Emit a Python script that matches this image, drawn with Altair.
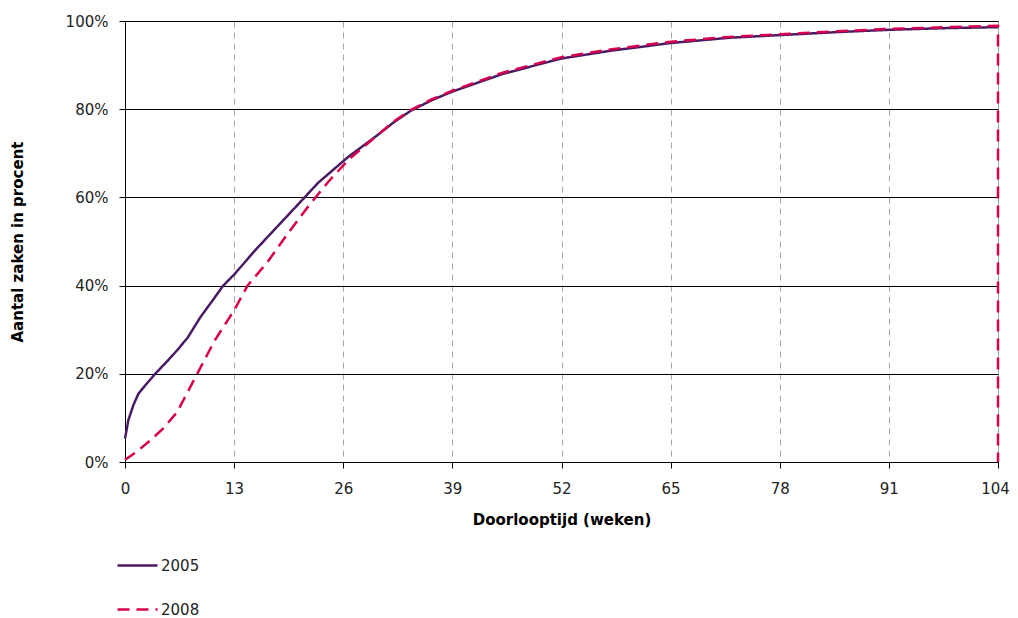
import altair as alt
import pandas as pd

weeks05 = [0, 0.4, 1, 1.6, 2.6, 3.6, 5, 6.2, 7.5, 9, 10.5, 11.7, 13, 15.5, 18.3, 21.4, 23, 26.6,
           30, 32, 34, 36.5, 39, 45, 52, 58, 65, 72, 78, 85, 91, 98, 104]
pct05 = [5.3, 9.5, 12.9, 15.5, 17.8, 20, 22.8, 25.3, 28.3, 32.9, 36.8, 40, 42.5, 48, 53.7, 60, 63.3, 69.2,
         74, 77, 79.6, 82, 84, 88, 91.5, 93.3, 95, 96.2, 96.8, 97.5, 98, 98.4, 98.6]

weeks08 = [0, 1.5, 3, 4.5, 6.2, 7.5, 8.6, 10.7, 13, 14.6, 17, 19.4, 21.8, 24.2, 26.6, 30, 32, 34, 36.5, 39, 45,
           52, 58, 65, 72, 78, 85, 91, 98, 104, 104]
pct08 = [0.5, 2.5, 4.9, 7.5, 11.3, 16, 20, 27.6, 34.4, 40, 45.4, 51.8, 57.9, 63.5, 68.5, 74, 77.2, 79.8, 82.2, 84.2, 88.3,
         91.8, 93.6, 95.3, 96.4, 97, 97.7, 98.2, 98.6, 98.9, 0]

series = ["2005", "2008"]
colors = ["#4A1A63", "#D6004F"]
xticks = [0, 13, 26, 39, 52, 65, 78, 91, 104]
yticks = [0, 20, 40, 60, 80, 100]

rows = []
for i, (w, p) in enumerate(zip(weeks05, pct05)):
    rows.append({"week": w, "pct": p, "serie": "2005", "idx": i})
for i, (w, p) in enumerate(zip(weeks08, pct08)):
    rows.append({"week": w, "pct": p, "serie": "2008", "idx": i})
df = pd.DataFrame(rows)

FONT = "DejaVu Sans"

chart = alt.Chart(df).mark_line(strokeWidth=2.5, clip=False).encode(
    x=alt.X("week:Q", scale=alt.Scale(domain=[0, 104], nice=False, zero=False),
            axis=alt.Axis(values=xticks, title="Doorlooptijd (weken)", grid=True,
                          gridColor="#A6A6A6", gridDash=[6, 5], gridWidth=1,
                          domainColor="black", tickColor="black", tickSize=6,
                          labelPadding=13, titlePadding=16, labelFlush=False,
                          labelOffset=alt.expr("datum.value == 104 ? -3 : 0"),
                          labelFont=FONT, labelFontSize=15, labelColor="#222222",
                          titleFont=FONT, titleFontSize=15, titleFontWeight="bold",
                          titleColor="black")),
    y=alt.Y("pct:Q", scale=alt.Scale(domain=[0, 100], nice=False),
            axis=alt.Axis(values=yticks, title="Aantal zaken in procent",
                          labelExpr="datum.value + '%'", grid=True, gridColor="black",
                          gridWidth=1, domainColor="black", tickColor="black", tickSize=6,
                          labelPadding=11, titlePadding=40,
                          labelFont=FONT, labelFontSize=15, labelColor="#222222",
                          titleFont=FONT, titleFontSize=15, titleFontWeight="bold",
                          titleColor="black")),
    color=alt.Color("serie:N", scale=alt.Scale(domain=series, range=colors),
                    legend=alt.Legend(title=None, orient="none", legendX=-9, legendY=523,
                                      direction="vertical", symbolType="stroke",
                                      symbolSize=1600, symbolStrokeWidth=2.5,
                                      rowPadding=14, labelFontSize=15, labelFont=FONT,
                                      labelColor="#222222", labelOffset=2)),
    strokeDash=alt.StrokeDash("serie:N", scale=alt.Scale(domain=series, range=[[1, 0], [12, 7]]),
                              legend=None),
    order="idx:Q",
).properties(
    width=873, height=441,
    background="white",
    autosize=alt.AutoSizeParams(type="none"),
    padding={"left": 117, "top": 13, "right": 12, "bottom": 160},
).configure_view(
    stroke="#A6A6A6", strokeWidth=1
)

chart.save("out.html", embed_options={"renderer": "svg", "actions": False})
